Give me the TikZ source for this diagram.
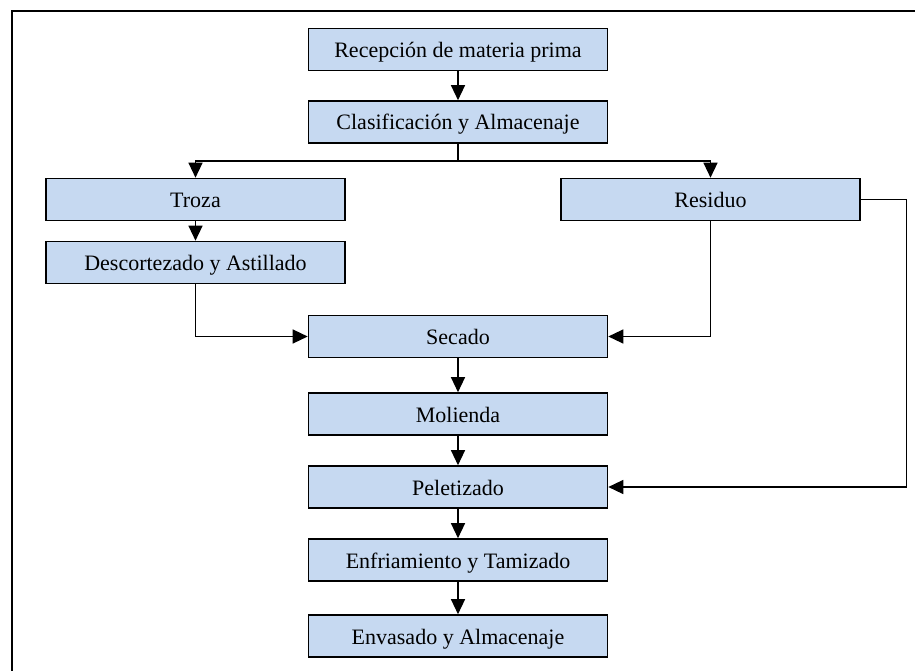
\documentclass[tikz,border=0pt]{standalone}
\usepackage{fontspec}
\setmainfont{Liberation Serif}
\usepackage{tikz}
\usetikzlibrary{arrows.meta,calc,positioning}
\definecolor{cajaazul}{RGB}{198,217,241}
\tikzstyle{paso} = [draw, line width=1.6pt, fill=cajaazul, minimum width=299pt, minimum height=42pt, inner sep=0pt, text height=20pt, text depth=4pt, font=\fontsize{22}{26}\selectfont]
\tikzstyle{arrow} = [draw, line width=1.3pt, -{Triangle[length=15pt,width=14pt]}]

\begin{document}
\begin{tikzpicture}[x=1pt,y=-1pt]
    \useasboundingbox (0,0) rectangle (915,671);
    % marco (solo se ven los lados superior e izquierdo)
    \draw[line width=1.4pt] (12,690) -- (12,11) -- (930,11);
    % linea principal
    \node[paso] (recep) at (458,49.5) {Recepción de materia prima};
    \node[paso] (clasif) at (458,122) {Clasificación y Almacenaje};
    \node[paso] (troza) at (195.5,199.5) {Troza};
    \node[paso] (residuo) at (710.5,199.5) {Residuo};
    \node[paso] (descort) at (195.5,262.5) {Descortezado y Astillado};
    \node[paso] (secado) at (458,336.5) {Secado};
    \node[paso] (molienda) at (458,414) {Molienda};
    \node[paso] (peletiz) at (458,487) {Peletizado};
    \node[paso] (enfria) at (458,560) {Enfriamiento y Tamizado};
    \node[paso] (envasado) at (458,636) {Envasado y Almacenaje};
    \coordinate (bifurca) at (458,161);
    \coordinate (retorno) at (906.5,199.5);
    \draw[arrow] (recep) -- (clasif);
    \draw[arrow] (clasif) -- (bifurca) -| (troza);
    \draw[arrow] (bifurca) -| (residuo);
    \draw[arrow] (troza) -- (descort);
    \draw[arrow] (descort.south) |- (secado.west);
    \draw[arrow] (residuo.south) |- (secado.east);
    \draw[arrow] (residuo.east) -- (retorno) |- (peletiz.east);
    \draw[arrow] (secado) -- (molienda);
    \draw[arrow] (molienda) -- (peletiz);
    \draw[arrow] (peletiz) -- (enfria);
    \draw[arrow] (enfria) -- (envasado);
\end{tikzpicture}
\end{document}
